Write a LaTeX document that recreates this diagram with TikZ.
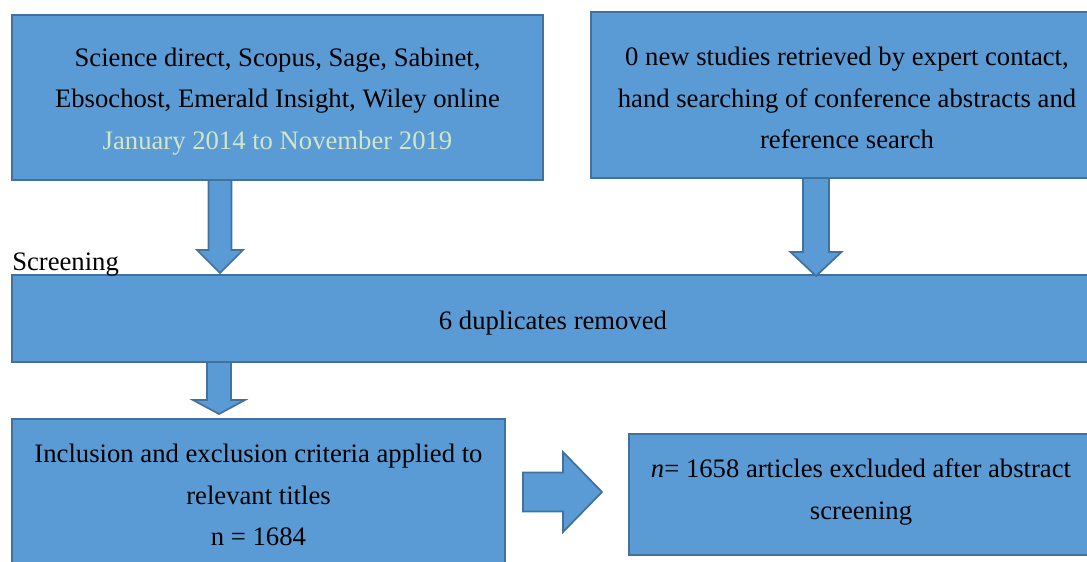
\documentclass[tikz,border=0pt]{standalone}
\usepackage{fontspec}
\setmainfont{Liberation Serif}
\definecolor{boxfill}{HTML}{5B9BD5}
\definecolor{boxline}{HTML}{41719C}
\definecolor{datecol}{HTML}{D0E6C5}
\tikzset{
  box/.style={draw=boxline, fill=boxfill, line width=1.5pt, inner sep=0pt},
  txt/.style={align=center, inner sep=0pt, font=\fontsize{20pt}{31pt}\selectfont, text=black},
  barrow/.style={draw=boxline, fill=boxfill, line width=1.3pt, line join=miter},
  lbl/.style={font=\fontsize{20pt}{24pt}\selectfont, inner sep=0pt}
}
\begin{document}
\begin{tikzpicture}[x=0.75pt,y=-0.75pt]
\useasboundingbox (0,0) rectangle (1087,561);
\clip (0,0) rectangle (1087,561);
% boxes
\node[box, minimum width=398.25pt, minimum height=123.75pt] (src) at (277.5,97.5) {};
\node[box, minimum width=384pt, minimum height=124.5pt] (other) at (847,95) {};
\node[box, minimum width=811.5pt, minimum height=65.25pt] (dup) at (553,318.5) {};
\node[box, minimum width=369.75pt, minimum height=117pt] (incl) at (258.5,497) {};
\node[box, minimum width=348pt, minimum height=90.75pt] (excl) at (861,494.5) {};
% texts
\node[txt] (srct) at ([yshift=-3pt]src.center)
  {Science direct, Scopus, Sage, Sabinet,\\ Ebsochost, Emerald Insight, Wiley online\\ \textcolor{datecol}{January 2014 to November 2019}};
\node[txt] (othert) at ([yshift=-2.3pt]other.center)
  {0 new studies retrieved by expert contact,\\ hand searching of conference abstracts and\\ reference search};
\node[txt] (dupt) at ([yshift=-3.6pt]dup.center) {6 duplicates removed};
\node[txt] (inclt) at ([yshift=1.5pt]incl.center)
  {Inclusion and exclusion criteria applied to\\ relevant titles\\ n = 1684};
\node[txt] (exclt) at ([yshift=1.8pt]excl.center)
  {\textit{n}= 1658 articles excluded after abstract\\ screening};
\node[lbl, anchor=base west] (screen) at (12,270) {Screening};
% block arrows
\coordinate (a1) at (220,180);
\coordinate (a2) at (816,178);
\coordinate (a3) at (219,362);
\coordinate (a4) at (523,492);
\begin{scope}[shift={(a1)}]
\draw[barrow] (-11.5,0) -- (11.5,0) -- (11.5,70) -- (23,70) -- (0,93) -- (-23,70) -- (-11.5,70) -- cycle;
\end{scope}
\begin{scope}[shift={(a2)}]
\draw[barrow] (-13,0) -- (13,0) -- (13,74) -- (25.5,74) -- (0,98) -- (-25.5,74) -- (-13,74) -- cycle;
\end{scope}
\begin{scope}[shift={(a3)}]
\draw[barrow] (-12,0) -- (12,0) -- (12,38) -- (26,38) -- (0,52) -- (-26,38) -- (-12,38) -- cycle;
\end{scope}
\begin{scope}[shift={(a4)}]
\draw[barrow] (0,-19.5) -- (40,-19.5) -- (40,-40) -- (79,0) -- (40,40) -- (40,19.5) -- (0,19.5) -- cycle;
\end{scope}
\end{tikzpicture}
\end{document}
